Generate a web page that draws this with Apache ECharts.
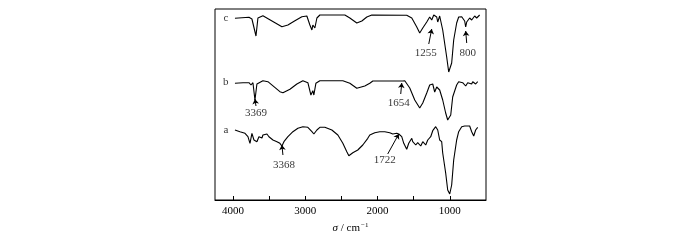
<!DOCTYPE html>
<html><head><meta charset="utf-8">
<script src="https://cdn.jsdelivr.net/npm/echarts@6/dist/echarts.min.js"></script>
<style>html,body{margin:0;padding:0;background:#fff}#c{width:700px;height:240px}</style>
</head><body><div id="c"></div>
<script>
// Spectrum c: [wavenumber (cm-1), relative transmittance (a.u.)]
const curveC = [[3974,181.7],[3780,182.7],[3739,181],[3725,182.7],[3683,164],[3656,182],[3587,184.3],[3324,173.3],[3241,175],[3144,179.3],[3048,183.3],[2979,184],[2937,175],[2909,170],[2896,175],[2868,172],[2840,182],[2799,185],[2453,185],[2384,182],[2288,177],[2218,179],[2149,183],[2080,185],[1597,184.7],[1583,186],[1527,182],[1458,173],[1417,167],[1375,172],[1320,178],[1279,183],[1251,180],[1223,185],[1182,183],[1168,178],[1141,184],[1099,170],[1044,143],[1016,128],[975,137],[947,160],[906,177],[878,183],[836,183.3],[795,179],[781,173],[767,178],[726,182],[698,180],[657,184],[629,182],[588,185]];
// Spectrum b
const curveB = [[3974,116.7],[3863,117.3],[3780,117.3],[3752,115],[3725,117.3],[3697,100],[3670,116],[3587,119.3],[3518,118.3],[3352,108.3],[3310,107.3],[3213,110.7],[3117,116],[3034,119.3],[2965,117.3],[2923,105],[2896,109.3],[2882,105],[2854,116.7],[2799,119.3],[2481,119.3],[2384,116.7],[2288,111.7],[2177,114],[2108,116.7],[2066,119],[1693,119],[1666,117.3],[1652,119],[1624,119.3],[1555,112],[1486,100],[1417,92],[1375,97],[1320,107],[1279,115],[1237,116],[1210,108],[1182,113],[1141,110],[1099,100],[1058,87],[1030,80],[988,85],[961,103],[906,115],[878,118.3],[823,117.3],[781,114],[753,117.3],[698,116],[684,118.3],[643,116],[615,118.3]];
// Spectrum a
const curveA = [[3974,70],[3905,68.3],[3835,66.7],[3794,63.3],[3766,56.7],[3739,66.7],[3725,68.3],[3711,60],[3670,58.3],[3642,63.3],[3600,62],[3587,65],[3531,66],[3504,63.3],[3448,60],[3393,58.3],[3352,56.7],[3324,54],[3296,58.3],[3241,63.3],[3172,68.3],[3103,71.7],[3034,73.3],[2965,72.7],[2909,68.3],[2882,66],[2840,70],[2799,72.7],[2730,72.7],[2633,70],[2550,65],[2481,56.7],[2426,48.3],[2398,44.3],[2343,47.3],[2274,50],[2205,55],[2136,61.7],[2108,65],[2039,67.3],[1970,68.3],[1901,68.3],[1832,67.3],[1790,66],[1735,66.7],[1707,66],[1666,63.3],[1638,56.7],[1597,50.7],[1569,56.7],[1527,61.7],[1514,58.3],[1472,55],[1445,57.3],[1403,54],[1375,58.3],[1334,55],[1306,60],[1265,63.3],[1237,69.3],[1196,73.3],[1168,70],[1141,60],[1113,58.3],[1099,47],[1058,27],[1030,10],[1002,6],[975,15],[947,40],[906,60],[878,68.3],[836,73.3],[795,74],[726,74],[698,68.3],[670,64],[643,70],[615,72.7]];

const curveNames = ['a', 'b', 'c'];
const curveNamePos = [[4100, 70], [4100, 118], [4100, 182]];

const peakTexts = ['3369', '3368', '1722', '1654', '1255', '800'];
const peakTextPos = [[3683, 87], [3296, 35], [1901, 40], [1707, 97], [1334, 147], [753, 147]];
const arrowFrom = [[3683, 94], [3310, 45], [1860, 46], [1680, 106], [1292, 156], [767, 157]];
const arrowTo = [[3697, 101], [3324, 55], [1707, 66], [1666, 117], [1251, 171], [781, 169]];

const xTickStep = 500;
const xMin = 500, xMax = 4250;

const FONT = 'Liberation Serif';
const chart = echarts.init(document.getElementById('c'), null, {renderer: 'canvas'});

const lineSeries = [curveA, curveB, curveC].map((d, i) => ({
  type: 'line', name: curveNames[i], data: d, showSymbol: false, symbol: 'none',
  lineStyle: {color: '#000', width: 1.1}, silent: true, animation: false, z: 3
}));

const textData = curveNames.map((n, i) => ({value: curveNamePos[i], name: n}))
  .concat(peakTexts.map((t, i) => ({value: peakTextPos[i], name: t})));

chart.setOption({
  animation: false,
  backgroundColor: '#fff',
  grid: {left: 215, right: 214, top: 9, bottom: 40, show: true, borderColor: '#000', borderWidth: 1},
  xAxis: {
    type: 'value', min: xMin, max: xMax, interval: xTickStep, inverse: true,
    axisLine: {show: true, lineStyle: {color: '#000', width: 1}},
    axisTick: {show: true, inside: true, length: 4, lineStyle: {color: '#000'}},
    splitLine: {show: false},
    axisLabel: {
      color: '#000', fontFamily: FONT, fontSize: 11, margin: 6,
      showMinLabel: false, showMaxLabel: false,
      formatter: v => (v % 1000 === 0 ? String(v) : '')
    },
    name: '{i|σ} / cm{s|−1}', nameLocation: 'middle', nameGap: 22,
    nameTextStyle: {
      color: '#000', fontFamily: FONT, fontSize: 11,
      rich: {
        i: {fontStyle: 'italic', fontFamily: FONT, fontSize: 11, color: '#000'},
        s: {fontFamily: FONT, fontSize: 7, color: '#000', verticalAlign: 'top', padding: [0, 0, 6, 1]}
      }
    }
  },
  yAxis: {type: 'value', min: 0, max: 191, show: false},
  series: lineSeries.concat([{
    type: 'scatter', data: textData, symbolSize: 0, silent: true, animation: false, z: 5,
    label: {show: true, position: 'inside', formatter: p => p.name, color: '#000', fontFamily: FONT, fontSize: 11},
    markLine: {
      silent: true, animation: false, symbol: ['none', 'arrow'], symbolSize: 5,
      lineStyle: {color: '#000', width: 1, type: 'solid'},
      label: {show: false},
      data: arrowFrom.map((f, i) => [{coord: f}, {coord: arrowTo[i]}])
    }
  }])
});
</script></body></html>
